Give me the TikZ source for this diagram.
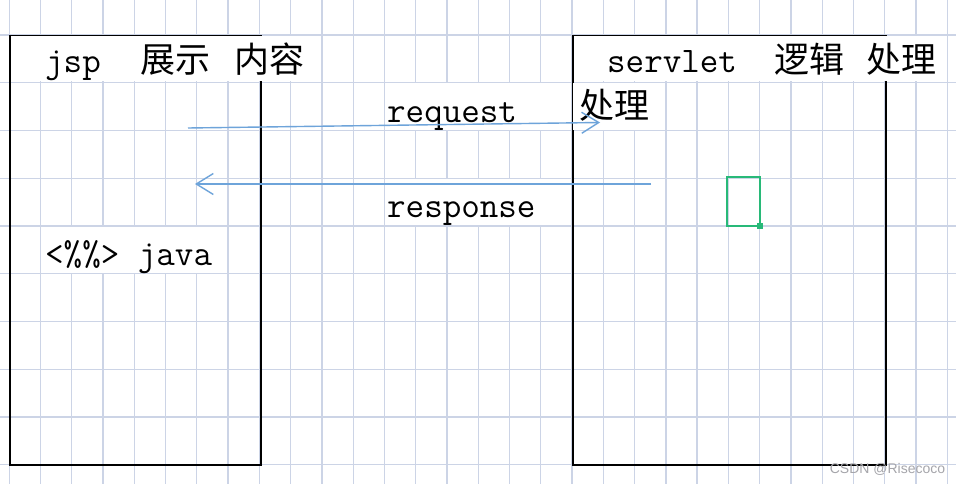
\documentclass[tikz,border=0pt]{standalone}
\usepackage{fontspec}
\newfontfamily\cjk{Noto Sans CJK SC}
\newfontfamily\wmfont{Liberation Sans}
\usetikzlibrary{arrows.meta}
\definecolor{gridc}{RGB}{204,212,230}
\definecolor{arrowc}{RGB}{110,164,218}
\definecolor{selc}{RGB}{40,185,120}
\definecolor{wmc}{RGB}{165,165,170}
\newcommand{\cjkt}[1]{{\cjk\fontsize{35}{40}\selectfont #1}}
\begin{document}
\begin{tikzpicture}[x=1pt,y=-1pt,
  gridline/.style={draw=gridc, line width=1.3pt},
  frame/.style={draw=black, line width=2.2pt, inner sep=0pt, anchor=north west},
  txt/.style={anchor=base west, inner sep=0pt, font=\fontsize{36}{40}\selectfont\ttfamily},
  flow/.style={draw=arrowc, line width=1.4pt, -{Straight Barb[length=17pt,width=21pt,line width=1.4pt]}}]
\useasboundingbox (0,0) rectangle (956,484);
\fill[white] (0,0) rectangle (956,484);
% grid
\foreach \k in {0,...,30} { \draw[gridline] ({9.2+31.27*\k},0) -- ({9.2+31.27*\k},484); }
\foreach \k in {0,...,9} { \draw[gridline] (0,{35+47.75*\k}) -- (956,{35+47.75*\k}); }
% boxes
\node[frame, minimum width=251pt, minimum height=428.5pt] (jspbox) at (9,35) {};
\node[frame, minimum width=312.5pt, minimum height=428.5pt] (servletbox) at (572,35) {};
% text backgrounds
\fill[white] (10.5,36.5) rectangle (304,81.3);
\fill[white] (573.5,36.5) rectangle (943,81.3);
\fill[white] (385.2,83.3) rectangle (570.8,129.8);
\fill[white] (573.2,83.3) rectangle (662,129.8);
\fill[white] (385.2,179.0) rectangle (545,225.3);
\fill[white] (41.5,226.8) rectangle (227.2,273.0);
% texts
\node[txt] (jsptitle) at (45,73) {jsp\hspace*{39.3pt}\cjkt{展示}\hspace*{24pt}\cjkt{内容}};
\node[txt] (servlettitle) at (607,73) {servlet\hspace*{37.7pt}\cjkt{逻辑}\hspace*{22pt}\cjkt{处理}};
\node[txt] (reqlabel) at (387,123) {request};
\node[txt] (proc) at (579,119) {\cjkt{处理}};
\node[txt] (reslabel) at (387,217) {response};
\node[txt] (javalabel) at (45,265) {<\%\%> java};
% arrows
\coordinate (reqA) at (188,128);
\coordinate (reqB) at (600,122.5);
\coordinate (resA) at (651,184);
\coordinate (resB) at (195,184);
\draw[flow] (reqA) -- (reqB);
\draw[flow] (resA) -- (resB);
% selection box
\draw[selc, line width=2pt] (727,177) rectangle (760,226);
\fill[selc] (757,223) rectangle (762.5,228.5);
% watermark
\node[inner sep=0pt, text=wmc, font=\wmfont\fontsize{14}{15}\selectfont] (wm) at (887.5,469) {CSDN @Risecoco};
\end{tikzpicture}
\end{document}
